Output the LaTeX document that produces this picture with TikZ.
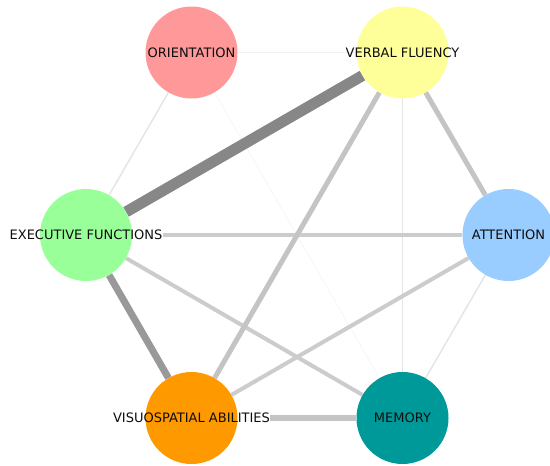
\documentclass[tikz,border=0pt]{standalone}
\usepackage{fontspec}
\setmainfont{DejaVu Sans}
\usetikzlibrary{backgrounds}
\definecolor{orientcol}{HTML}{FF9999}
\definecolor{verbalcol}{HTML}{FFFF99}
\definecolor{execcol}{HTML}{99FF99}
\definecolor{attentcol}{HTML}{99CCFF}
\definecolor{visuocol}{HTML}{FF9900}
\definecolor{memorycol}{HTML}{009999}
\tikzstyle{factor}=[
	circle,
	minimum size=92pt,
	inner sep=0pt,
	draw=none
]
\tikzstyle{tag}=[
	font=\fontsize{13}{15}\selectfont,
	text=black!95,
	inner sep=0pt
]
\tikzstyle{link}=[line cap=butt]
\tikzstyle{strongest}=[link, line width=11pt, draw=black!47]
\tikzstyle{strong}=[link, line width=7pt, draw=black!40]
\tikzstyle{moderate}=[link, line width=5pt, draw=black!23]
\tikzstyle{mild}=[link, line width=4pt, draw=black!20]
\tikzstyle{faint}=[link, line width=1.5pt, draw=black!10]
\tikzstyle{trace}=[link, line width=1pt, draw=black!5]

\begin{document}
\begin{tikzpicture}[x=1pt,y=-1pt]
\useasboundingbox (0,0) rectangle (550,466);
\node [factor, fill=orientcol, label={[tag, name=OrientationText]center:ORIENTATION}] (Orientation) at (191.5,52.5) {};
\node [factor, fill=verbalcol, label={[tag, name=VerbalText]center:VERBAL FLUENCY}] (VerbalFluency) at (402.5,52.5) {};
\node [factor, fill=execcol, label={[tag, name=ExecutiveText]center:EXECUTIVE FUNCTIONS}] (ExecutiveFunctions) at (86,235) {};
\node [factor, fill=attentcol, label={[tag, name=AttentionText]center:ATTENTION}] (Attention) at (508.5,235) {};
\node [factor, fill=visuocol, label={[tag, name=VisuospatialText]center:VISUOSPATIAL ABILITIES}] (Visuospatial) at (191.5,418) {};
\node [factor, fill=memorycol, label={[tag, name=MemoryText]center:MEMORY}] (Memory) at (402.5,418) {};
\begin{scope}[on background layer]
\draw [trace] (Orientation) -- (VerbalFluency);
\draw [trace, draw=black!3] (Orientation) -- (Memory);
\draw [faint] (Orientation) -- (ExecutiveFunctions);
\draw [faint] (VerbalFluency) -- (Memory);
\draw [faint] (Attention) -- (Memory);
\draw [mild] (ExecutiveText) -- (Attention);
\draw [mild] (ExecutiveFunctions) -- (Memory);
\draw [mild] (Attention) -- (Visuospatial);
\draw [moderate] (VerbalFluency) -- (Attention);
\draw [moderate] (VerbalFluency) -- (Visuospatial);
\draw [moderate, line width=6pt] (VisuospatialText) -- (Memory);
\draw [strong] (ExecutiveFunctions) -- (Visuospatial);
\draw [strongest] (ExecutiveFunctions) -- (VerbalFluency);
\end{scope}
\end{tikzpicture}
\end{document}
